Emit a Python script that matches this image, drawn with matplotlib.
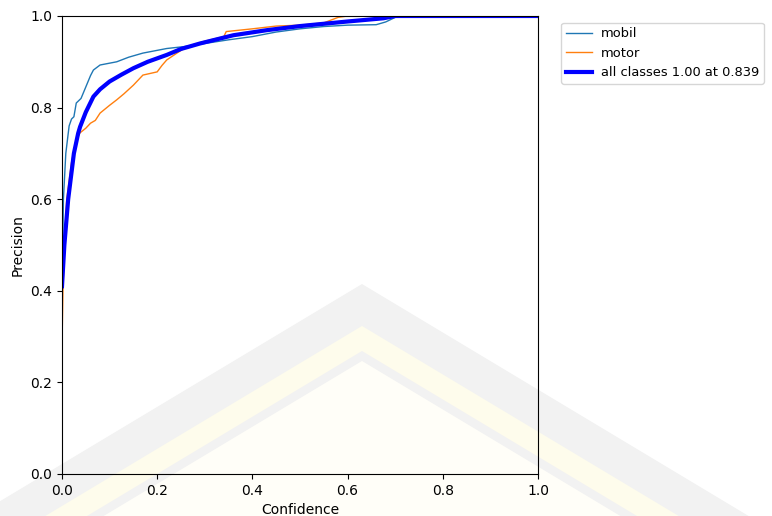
import matplotlib.pyplot as plt
from matplotlib.patches import Polygon

# precision-confidence curves
mobil_x = [0.0, 0.001, 0.003, 0.008, 0.015, 0.02, 0.025, 0.03, 0.04, 0.05, 0.06, 0.066,
           0.08, 0.1, 0.115, 0.14, 0.17, 0.2, 0.22, 0.255, 0.3, 0.35, 0.4, 0.45, 0.5,
           0.55, 0.6, 0.66, 0.68, 0.7, 0.72, 1.0]
mobil_y = [0.26, 0.45, 0.6, 0.7, 0.76, 0.775, 0.78, 0.81, 0.82, 0.845, 0.87, 0.882,
           0.893, 0.897, 0.9, 0.91, 0.919, 0.925, 0.929, 0.933, 0.94, 0.948, 0.955, 0.965,
           0.972, 0.977, 0.98, 0.981, 0.987, 0.997, 1.0, 1.0]

motor_x = [0.0, 0.002, 0.005, 0.01, 0.02, 0.03, 0.038, 0.05, 0.06, 0.07, 0.08, 0.1,
           0.115, 0.13, 0.15, 0.17, 0.2, 0.21, 0.22, 0.24, 0.262, 0.3, 0.34, 0.345,
           0.4, 0.45, 0.5, 0.55, 0.58, 0.6, 1.0]
motor_y = [0.28, 0.4, 0.5, 0.6, 0.68, 0.73, 0.745, 0.755, 0.766, 0.772, 0.788, 0.805,
           0.817, 0.83, 0.849, 0.871, 0.878, 0.892, 0.904, 0.918, 0.933, 0.945, 0.955,
           0.966, 0.972, 0.978, 0.98, 0.985, 0.997, 1.0, 1.0]

all_x = [0.0, 0.005, 0.013, 0.025, 0.034, 0.038, 0.05, 0.066, 0.08, 0.1, 0.125, 0.15,
         0.18, 0.22, 0.25, 0.29, 0.36, 0.43, 0.5, 0.6, 0.675, 0.7, 1.0]
all_y = [0.41, 0.5, 0.6, 0.7, 0.744, 0.758, 0.79, 0.824, 0.84, 0.857, 0.872, 0.886,
         0.9, 0.915, 0.928, 0.94, 0.958, 0.969, 0.978, 0.988, 0.995, 1.0, 1.0]

labels = ['mobil', 'motor', 'all classes 1.00 at 0.839']

fig = plt.figure(figsize=(7.72, 5.16), dpi=100)

# faint watermark behind the plot (figure pixel coords, y from top)
def chevron(apex_y, color):
    W, H = 772, 516
    pts = [(-400, apex_y + 0.6 * (362 + 400)), (362, apex_y), (1200, apex_y + 0.6 * (1200 - 362))]
    pts = [(x / W, 1 - y / H) for x, y in pts]
    fig.patches.append(Polygon(pts, closed=True, transform=fig.transFigure,
                               facecolor=color, edgecolor='none', zorder=-10))

chevron(284, '#f2f2f2')
chevron(326, '#fefcec')
chevron(351, '#f2f2f2')
chevron(361, '#fffef8')

ax = fig.add_axes([0.0803, 0.0814, 0.6166, 0.8876])
ax.set_facecolor('none')
ax.plot(mobil_x, mobil_y, linewidth=1, color='tab:blue', label=labels[0])
ax.plot(motor_x, motor_y, linewidth=1, color='tab:orange', label=labels[1])
ax.plot(all_x, all_y, linewidth=3, color='blue', label=labels[2])

ax.set_xlim(0, 1)
ax.set_ylim(0, 1)
ax.set_xlabel('Confidence')
ax.set_ylabel('Precision')
ax.legend(bbox_to_anchor=(1.035, 1), loc='upper left', fontsize=9.4,
          borderpad=0.35, handletextpad=0.7)

fig.savefig('out.png', dpi=100)
